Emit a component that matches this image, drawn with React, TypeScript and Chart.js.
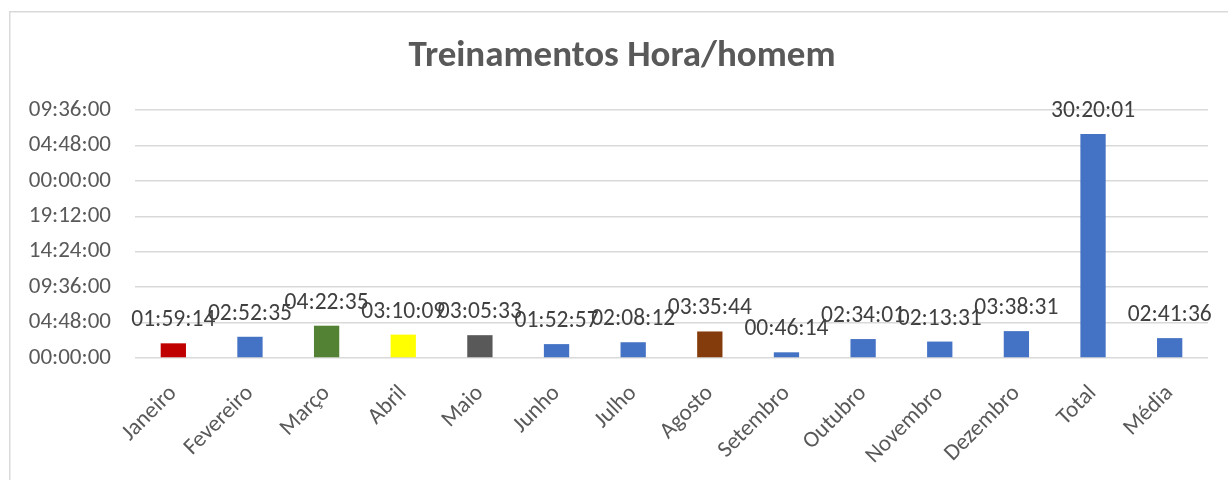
import React, { useEffect, useRef } from "react";
import { Chart, registerables } from "chart.js";

Chart.register(...registerables);

const categories: string[] = [
  "Janeiro", "Fevereiro", "Março", "Abril", "Maio", "Junho", "Julho",
  "Agosto", "Setembro", "Outubro", "Novembro", "Dezembro", "Total", "Média",
];

const durations: string[] = [
  "01:59:14", "02:52:35", "04:22:35", "03:10:09", "03:05:33", "01:52:57", "02:08:12",
  "03:35:44", "00:46:14", "02:34:01", "02:13:31", "03:38:31", "30:20:01", "02:41:36",
];

const barColors: string[] = [
  "#C00000", "#4472C4", "#548235", "#FFFF00", "#595959", "#4472C4", "#4472C4",
  "#843C0C", "#4472C4", "#4472C4", "#4472C4", "#4472C4", "#4472C4", "#4472C4",
];

const title = "Treinamentos Hora/homem";
const yStepSeconds = 17280; // 04:48:00
const yMaxSeconds = 120960; // 33:36:00

const FONT = "Carlito, Calibri, Lato, 'Open Sans', sans-serif";

const toSeconds = (s: string): number => {
  const [h, m, sec] = s.split(":").map(Number);
  return h * 3600 + m * 60 + sec;
};
const pad2 = (n: number) => String(n).padStart(2, "0");
const formatTick = (v: number): string => {
  const total = Math.round(v);
  const h = Math.floor(total / 3600) % 24;
  const m = Math.floor((total % 3600) / 60);
  const s = total % 60;
  return `${pad2(h)}:${pad2(m)}:${pad2(s)}`;
};

const values = durations.map(toSeconds);

const framePlugin = {
  id: "frame",
  beforeDraw(chart: any) {
    const { ctx } = chart;
    ctx.save();
    ctx.fillStyle = "#ffffff";
    ctx.fillRect(0, 0, chart.width, chart.height);
    ctx.strokeStyle = "#d9d9d9";
    ctx.lineWidth = 1.5;
    ctx.strokeRect(9.75, 11.75, chart.width + 50, chart.height + 50);
    // chart title, centred on the chart frame
    ctx.font = `bold 37px ${FONT}`;
    ctx.fillStyle = "#595959";
    ctx.textAlign = "center";
    ctx.textBaseline = "alphabetic";
    ctx.fillText(title, 622, 66);
    ctx.restore();
  },
};

const labelPlugin = {
  id: "barLabels",
  afterDatasetsDraw(chart: any) {
    const { ctx } = chart;
    const meta = chart.getDatasetMeta(0);
    ctx.save();
    ctx.font = `23.5px ${FONT}`;
    ctx.fillStyle = "#404040";
    ctx.textAlign = "center";
    ctx.textBaseline = "alphabetic";
    meta.data.forEach((bar: any, i: number) => {
      ctx.fillText(durations[i], bar.x, bar.y - 17);
    });
    ctx.restore();
  },
};

export default function App() {
  const canvasRef = useRef<HTMLCanvasElement | null>(null);

  useEffect(() => {
    if (!canvasRef.current) return;
    const chart = new Chart(canvasRef.current, {
      type: "bar",
      data: {
        labels: categories,
        datasets: [
          {
            data: values,
            backgroundColor: barColors,
            barPercentage: 0.33,
            categoryPercentage: 1,
          },
        ],
      },
      options: {
        animation: false,
        responsive: false,
        layout: { padding: { left: 0, right: 20, top: 110, bottom: 0 } },
        plugins: {
          legend: { display: false },
          tooltip: { enabled: false },
          title: { display: false },
        },
        scales: {
          x: {
            grid: { display: false },
            border: { display: false },
            ticks: {
              color: "#595959",
              font: { family: FONT, size: 23 },
              minRotation: 45,
              maxRotation: 45,
              padding: 14,
              autoSkip: false,
            },
            afterFit(scale: any) {
              scale.height = 122;
            },
          },
          y: {
            min: 0,
            max: yMaxSeconds,
            grid: { color: "#d9d9d9", lineWidth: 1.5, drawTicks: false },
            border: { display: false },
            ticks: {
              stepSize: yStepSeconds,
              color: "#595959",
              font: { family: FONT, size: 23 },
              padding: 24,
              callback: (v: any) => formatTick(Number(v)),
            },
            afterFit(scale: any) {
              scale.width = 135;
            },
          },
        },
      },
      plugins: [framePlugin, labelPlugin],
    });
    return () => chart.destroy();
  }, []);

  return (
    <div style={{ position: "fixed", left: 0, top: 0, width: 1228, height: 480, background: "#fff" }}>
      <canvas ref={canvasRef} width={1228} height={480} />
    </div>
  );
}
